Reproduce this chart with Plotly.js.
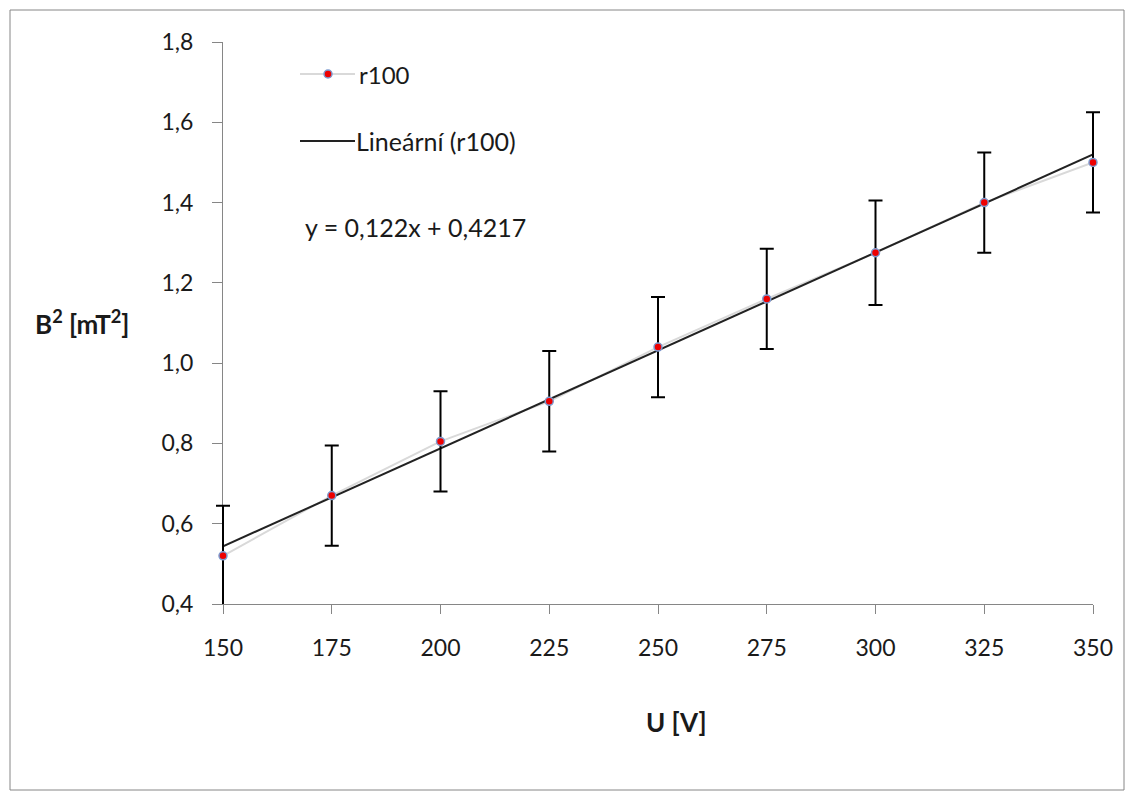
<!DOCTYPE html>
<html><head><meta charset="utf-8">
<script src="https://cdn.plot.ly/plotly-3.0.1.min.js"></script>
<style>html,body{margin:0;padding:0;background:#fff}#chart{width:1129px;height:792px}</style>
</head><body><div id="chart"></div>
<script>
const voltages = [150, 175, 200, 225, 250, 275, 300, 325, 350];
const bSquared = [0.52, 0.67, 0.805, 0.905, 1.04, 1.16, 1.275, 1.40, 1.50];
const errors = [0.125, 0.125, 0.125, 0.125, 0.125, 0.125, 0.13, 0.125, 0.125];
const trendSlope = 0.122;     // per category index (Excel x = 1..n)
const trendIntercept = 0.4217;
const seriesName = 'r100';
const trendName = 'Lineární (r100)';
const equationText = 'y = 0,122x + 0,4217';

const trendY = voltages.map((v, i) => trendSlope * (i + 1) + trendIntercept);
const font = 'Lato, "Open Sans", sans-serif';
const txt = '#1a1a1a';
const dataLine = '#d9d9d9';

// visible axis spans 223..1093 px; markers/error bars are drawn on a hidden, 10px-wider twin axis so edge caps are not clipped
const padPx = 10;
const mL = 223 - padPx, mR = 1129 - 1093 - padPx;
const paperW = 1129 - mL - mR;
const xMin = 150, xMax = 350;
const unitsPerPx = (xMax - xMin) / 870;
const px = x => (x - mL) / paperW;
const py = y => (604 - y) / 562;

const traces = [
  { // data connecting line
    x: voltages, y: bSquared, name: seriesName, type: 'scatter', mode: 'lines',
    showlegend: false, hoverinfo: 'skip',
    line: {color: dataLine, width: 2}
  },
  { // linear trendline
    x: voltages, y: trendY, name: trendName, type: 'scatter', mode: 'lines',
    showlegend: false, line: {color: '#222', width: 2}
  },
  { // markers + error bars
    x: voltages, y: bSquared, name: seriesName, type: 'scatter', mode: 'markers',
    xaxis: 'x2', showlegend: false, cliponaxis: false,
    marker: {color: '#ee0000', size: 8, line: {color: '#7d9bd0', width: 1.5}},
    error_y: {type: 'data', array: errors, visible: true, color: '#000', thickness: 2, width: 7}
  }
];

const layout = {
  width: 1129, height: 792,
  margin: {l: mL, r: mR, t: 42, b: 188},
  paper_bgcolor: '#fff', plot_bgcolor: 'rgba(0,0,0,0)',
  separators: ',.',
  font: {family: font, size: 23, color: txt},
  showlegend: false,
  xaxis: {range: [xMin, xMax], domain: [padPx / paperW, 1 - padPx / paperW], anchor: 'y',
          tickvals: voltages, ticktext: voltages.map(String),
          showgrid: false, zeroline: false, showline: true, linecolor: '#868686', linewidth: 1,
          ticks: 'outside', ticklen: 9, tickcolor: '#868686', tickfont: {size: 23, color: txt},
          ticklabelstandoff: 14},
  xaxis2: {range: [xMin - padPx * unitsPerPx, xMax + padPx * unitsPerPx], domain: [0, 1],
           anchor: 'y', visible: false, showgrid: false, zeroline: false},
  yaxis: {range: [0.4, 1.8], dtick: 0.2, tickformat: '.1f', anchor: 'x',
          showgrid: false, zeroline: false, showline: true, linecolor: '#868686', linewidth: 1,
          ticks: 'outside', ticklen: 10, tickcolor: '#868686', tickfont: {size: 23, color: txt},
          ticklabelstandoff: 14},
  annotations: [
    {text: '<b>U [V]</b>', xref: 'paper', yref: 'paper', x: px(676), y: py(722),
     xanchor: 'center', yanchor: 'middle', showarrow: false, font: {size: 26}},
    {text: '<b>B<sup>2</sup> [mT<sup>2</sup>]</b>', xref: 'paper', yref: 'paper', x: px(82), y: py(322),
     xanchor: 'center', yanchor: 'middle', showarrow: false, font: {size: 26}},
    {text: equationText, xref: 'paper', yref: 'paper', x: px(303), y: py(227),
     xanchor: 'left', yanchor: 'middle', showarrow: false, font: {size: 25}},
    {text: seriesName, xref: 'paper', yref: 'paper', x: px(357), y: py(74),
     xanchor: 'left', yanchor: 'middle', showarrow: false, font: {size: 24}},
    {text: trendName, xref: 'paper', yref: 'paper', x: px(354), y: py(141),
     xanchor: 'left', yanchor: 'middle', showarrow: false, font: {size: 25}}
  ],
  shapes: [
    {type: 'rect', xref: 'paper', yref: 'paper', x0: px(10), x1: px(1124),
     y0: py(790), y1: py(10), line: {color: '#868686', width: 1}},
    // legend symbols
    {type: 'line', xref: 'paper', yref: 'paper', x0: px(300), x1: px(355), y0: py(74), y1: py(74),
     line: {color: dataLine, width: 2}},
    {type: 'circle', xref: 'paper', yref: 'paper', x0: px(324), x1: px(332), y0: py(78), y1: py(70),
     fillcolor: '#ee0000', line: {color: '#7d9bd0', width: 1.5}},
    {type: 'line', xref: 'paper', yref: 'paper', x0: px(300), x1: px(355), y0: py(141), y1: py(141),
     line: {color: '#222', width: 2}}
  ]
};

Plotly.newPlot('chart', traces, layout, {displayModeBar: false, staticPlot: true});
</script></body></html>
